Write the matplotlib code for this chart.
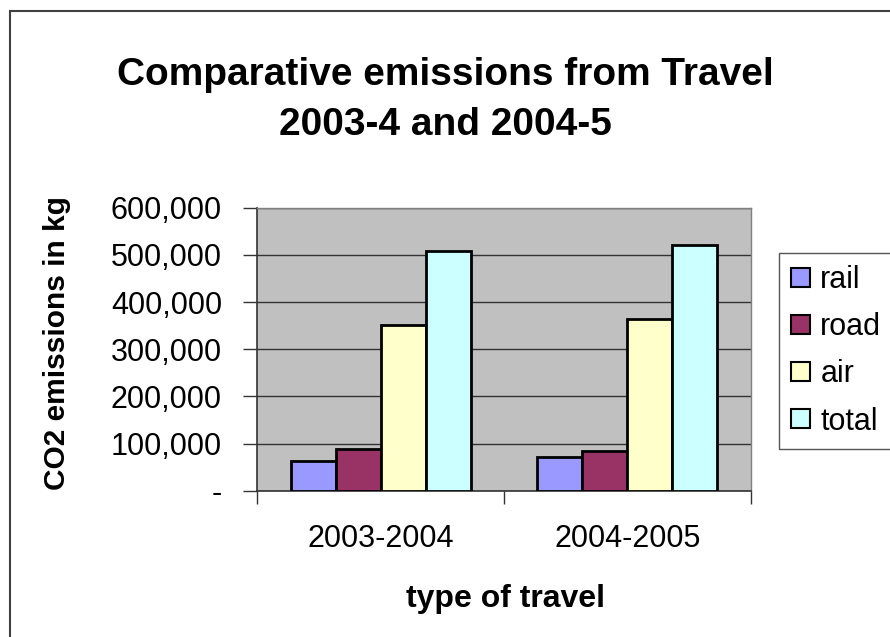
import numpy as np
import matplotlib
matplotlib.use("Agg")
import matplotlib.pyplot as plt
from matplotlib.patches import Rectangle
from matplotlib.ticker import FuncFormatter, FixedLocator

plt.rcParams['font.family'] = ['Liberation Sans', 'DejaVu Sans']

# Dane
periods = ['2003-2004', '2004-2005']
series = ['rail', 'road', 'air', 'total']
rail = [63000, 71400]
road = [88400, 84200]
air = [351300, 364000]
total = [508200, 520900]
colors = ['#9999FF', '#993366', '#FFFFCC', '#CCFFFF']

values = [rail, road, air, total]

fig = plt.figure(figsize=(8.9, 6.37), dpi=100)
ax = fig.add_axes([0.2891, 0.2297, 0.5544, 0.4443])
ax.set_facecolor('#C0C0C0')

x = np.arange(len(periods))
w = 0.1824
for i, (name, vals, c) in enumerate(zip(series, values, colors)):
    ax.bar(x + (i - 1.5) * w, vals, w, color=c, edgecolor='black',
           linewidth=2, label=name, zorder=3)

ax.set_xlim(-0.5, 1.5)
ax.set_ylim(0, 600000)
ax.set_yticks(np.arange(0, 600001, 100000))
ax.yaxis.set_major_formatter(FuncFormatter(lambda v, p: '-' if v == 0 else f'{int(v):,}'))
ax.grid(axis='y', color='#333333', linewidth=1, zorder=1)
ax.set_axisbelow(True)

# x: etykiety na środku, kreski na granicach kategorii
ax.set_xticks(x)
ax.set_xticklabels(periods)
ax.xaxis.set_minor_locator(FixedLocator([-0.5, 0.5, 1.5]))
ax.tick_params(axis='x', which='major', length=0, pad=24, labelsize=22)
ax.tick_params(axis='x', which='minor', length=9, width=1, color='#333333')
ax.tick_params(axis='y', length=10, width=1, color='#333333', pad=15.5, labelsize=22)

for s in ['top', 'right']:
    ax.spines[s].set_color('#808080')
    ax.spines[s].set_linewidth(1)
for s in ['left', 'bottom']:
    ax.spines[s].set_color('#333333')
    ax.spines[s].set_linewidth(1.2)

# Tytuł i opisy osi
fig.text(0.5, 1 - 100 / 637, 'Comparative emissions from Travel\n2003-4 and 2004-5',
         ha='center', va='center', fontsize=28, fontweight='bold', linespacing=1.5)
fig.text(57 / 890, 1 - 343.5 / 637, 'CO2 emissions in kg', rotation=90,
         ha='center', va='center', fontsize=21.5, fontweight='bold')
fig.text(506 / 890, 1 - 599 / 637, 'type of travel',
         ha='center', va='center', fontsize=23, fontweight='bold')

leg = ax.legend(loc='upper left', bbox_to_anchor=(779 / 890, 1 - 253 / 637),
                bbox_transform=fig.transFigure, fontsize=22, frameon=True,
                fancybox=False, edgecolor='#555555', framealpha=1,
                handlelength=0.6, handleheight=0.6, handletextpad=0.35,
                labelspacing=0.56, borderpad=0.4, borderaxespad=0)
leg.get_frame().set_linewidth(1)
for h in leg.legend_handles:
    h.set_linewidth(1.5)

# Ramka wykresu
fig.patches.append(Rectangle((9.5 / 890, -0.1), 2, 1 - 11 / 637 + 0.1,
                             transform=fig.transFigure, fill=False,
                             edgecolor='#404040', linewidth=1.5))

fig.savefig('out.png', dpi=100)
